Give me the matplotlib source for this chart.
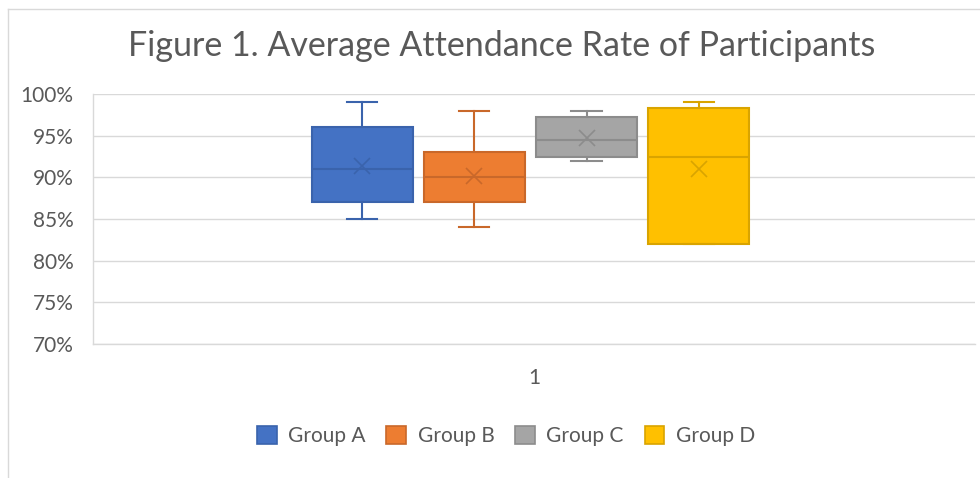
import matplotlib
matplotlib.use("Agg")
import matplotlib.pyplot as plt
from matplotlib.patches import Patch
from matplotlib.lines import Line2D

# values (percent)
groups = ["Group A", "Group B", "Group C", "Group D"]
whisker_low = [85, 84, 92, 82]
q1 = [87, 87, 92.5, 82]
median = [91, 90, 94.5, 92.5]
q3 = [96, 93, 97.3, 98.3]
whisker_high = [99, 98, 98, 99]
means = [91.4, 90.2, 94.7, 91.0]

face_colors = ["#4472C4", "#ED7D31", "#A5A5A5", "#FFC000"]
edge_colors = ["#3A63AC", "#C9682A", "#8C8C8C", "#D9A400"]

plt.rcParams["font.family"] = ["Lato", "DejaVu Sans"]

W, H = 980, 478
fig = plt.figure(figsize=(W / 100, H / 100), dpi=100)
ax = fig.add_axes([93 / W, 1 - 344 / H, (975 - 93) / W, (344 - 94) / H])

stats = []
for i in range(len(groups)):
    stats.append({
        "label": groups[i], "whislo": whisker_low[i], "q1": q1[i], "med": median[i],
        "q3": q3[i], "whishi": whisker_high[i], "mean": means[i], "fliers": [],
    })

spacing = 112.3 / 882
width = 101 / 882
positions = [1 + (i - 1.5) * spacing - 0.004 for i in range(len(groups))]

for i, s in enumerate(stats):
    ec = edge_colors[i]
    ax.bxp([s], positions=[positions[i]], widths=width, patch_artist=True,
           showmeans=True, manage_ticks=False,
           boxprops=dict(facecolor=face_colors[i], edgecolor=ec, linewidth=1.5),
           medianprops=dict(color=ec, linewidth=1.5),
           whiskerprops=dict(color=ec, linewidth=1.5),
           capprops=dict(color=ec, linewidth=1.5),
           capwidths=width * 0.3,
           meanprops=dict(marker="x", markeredgecolor=ec, markersize=11, markeredgewidth=1.2))

ax.set_xlim(0.5, 1.5)
ax.set_ylim(70, 100)
ax.set_yticks([70, 75, 80, 85, 90, 95, 100])
ax.set_yticklabels([f"{v}%" for v in [70, 75, 80, 85, 90, 95, 100]])
ax.set_xticks([1])
ax.set_xticklabels(["1"])
ax.tick_params(axis="both", length=0, labelsize=15, colors="#595959")
ax.tick_params(axis="x", pad=17)
ax.tick_params(axis="y", pad=14)
ax.yaxis.grid(True, color="#D9D9D9", linewidth=1)
ax.set_axisbelow(True)
for side in ["top", "right"]:
    ax.spines[side].set_visible(False)
for side in ["left", "bottom"]:
    ax.spines[side].set_color("#D9D9D9")
    ax.spines[side].set_linewidth(1)

fig.text(0.512, 1 - 46 / H, "Figure 1. Average Attendance Rate of Participants",
         ha="center", va="center", fontsize=24.5, color="#595959")

handles = [Patch(facecolor=face_colors[i], edgecolor=edge_colors[i], linewidth=1.2, label=groups[i])
           for i in range(len(groups))]
fig.legend(handles=handles, loc="center", bbox_to_anchor=(506 / W, 1 - 436 / H), ncol=4,
           frameon=False, fontsize=15, labelcolor="#595959", handlelength=0.95,
           handleheight=0.95, handletextpad=0.55, columnspacing=1.0)

# outer chart border
fig.add_artist(Line2D([8 / W, 8 / W], [0, 1 - 9 / H], color="#D9D9D9", linewidth=1))
fig.add_artist(Line2D([8 / W, 1], [1 - 9 / H, 1 - 9 / H], color="#D9D9D9", linewidth=1))

fig.savefig("out.png", dpi=100)
